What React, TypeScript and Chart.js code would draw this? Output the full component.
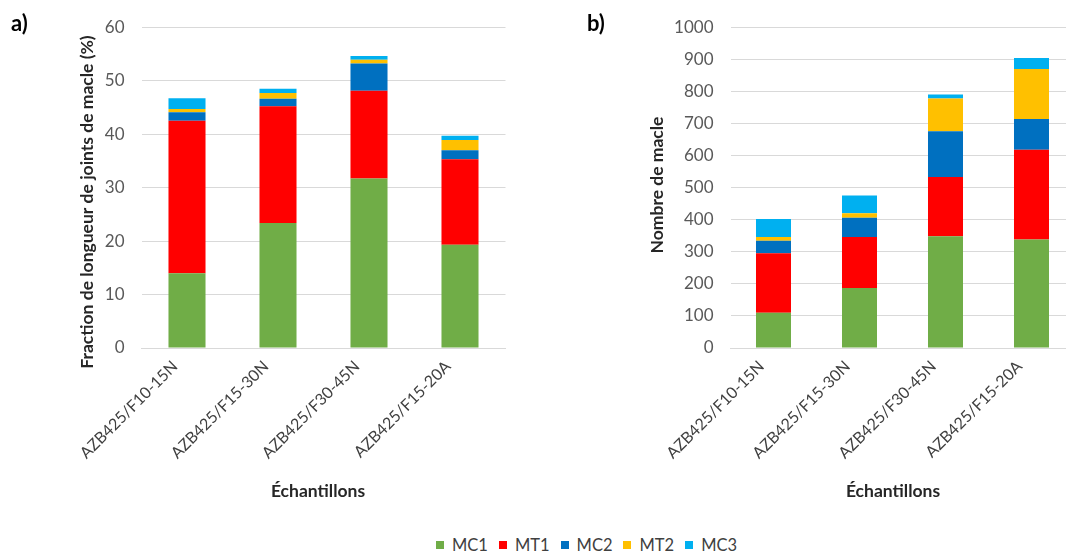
import React, { useEffect, useRef } from "react";
import { Chart, registerables } from "chart.js";

Chart.register(...registerables);

const categories = ["AZB425/F10-15N", "AZB425/F15-30N", "AZB425/F30-45N", "AZB425/F15-20A"];
const seriesNames = ["MC1", "MT1", "MC2", "MT2", "MC3"];
const seriesColors = ["#70AD47", "#FF0000", "#0070C0", "#FFC000", "#00B0F0"];

// a) Fraction de longueur de joints de macle (%)
const fracMC1 = [14.0, 23.4, 31.7, 19.3];
const fracMT1 = [28.5, 21.8, 16.4, 16.0];
const fracMC2 = [1.6, 1.4, 5.1, 1.7];
const fracMT2 = [0.6, 1.1, 0.7, 1.9];
const fracMC3 = [2.0, 0.8, 0.7, 0.8];

// b) Nombre de macle
const countMC1 = [110, 187, 348, 338];
const countMT1 = [185, 159, 185, 280];
const countMC2 = [39, 60, 143, 96];
const countMT2 = [12, 14, 102, 156];
const countMC3 = [56, 55, 12, 34];

const FONT = "Lato, 'Open Sans', sans-serif";
const Y_W = 60;
const X_H = 150;

type PanelProps = {
  left: number;
  width: number;
  height: number;
  series: number[][];
  yMax: number;
  yStep: number;
  yTitle: string;
  yTitleX: number;
  yTitleY: number;
  xTitle: string;
  xTitleX: number;
  xTitleY: number;
  plotLeft: number;
  plotRight: number;
  plotTop: number;
  plotBottom: number;
};

function Panel(p: PanelProps) {
  const ref = useRef<HTMLCanvasElement | null>(null);
  useEffect(() => {
    if (!ref.current) return;
    const titlePlugin = {
      id: "customTitles",
      afterDraw(chart: any) {
        const ctx = chart.ctx;
        ctx.save();
        ctx.fillStyle = "#262626";
        ctx.font = `bold 17.5px ${FONT}`;
        ctx.textAlign = "center";
        ctx.textBaseline = "middle";
        ctx.fillText(p.xTitle, p.xTitleX, p.xTitleY);
        ctx.translate(p.yTitleX, p.yTitleY);
        ctx.rotate(-Math.PI / 2);
        ctx.fillText(p.yTitle, 0, 0);
        ctx.restore();
      },
    };
    const chart = new Chart(ref.current, {
      type: "bar",
      data: {
        labels: categories,
        datasets: p.series.map((d, i) => ({
          label: seriesNames[i],
          data: d,
          backgroundColor: seriesColors[i],
          borderWidth: 0,
          categoryPercentage: 1,
          barPercentage: 0.407,
        })),
      },
      options: {
        responsive: false,
        animation: false,
        layout: {
          padding: {
            left: p.plotLeft - Y_W,
            right: p.width - p.plotRight,
            top: p.plotTop,
            bottom: p.height - p.plotBottom - X_H,
          },
        },
        plugins: { legend: { display: false }, tooltip: { enabled: false } },
        scales: {
          x: {
            stacked: true,
            grid: { display: false, drawTicks: false },
            border: { color: "#D9D9D9", width: 1 },
            ticks: {
              color: "#404040",
              font: { family: FONT, size: 16 },
              minRotation: 45,
              maxRotation: 45,
              autoSkip: false,
              padding: 9,
              labelOffset: -12,
            },
            afterFit: (s: any) => {
              s.height = X_H;
            },
          },
          y: {
            stacked: true,
            min: 0,
            max: p.yMax,
            ticks: {
              stepSize: p.yStep,
              color: "#595959",
              font: { family: FONT, size: 17 },
              padding: 17,
              callback: (v: any) => String(v),
            },
            grid: { color: "#D9D9D9", drawTicks: false },
            border: { display: false },
            afterFit: (s: any) => {
              s.width = Y_W;
            },
          },
        },
      },
      plugins: [titlePlugin],
    });
    return () => chart.destroy();
  }, []);
  return (
    <canvas
      ref={ref}
      width={p.width}
      height={p.height}
      style={{ position: "absolute", left: p.left, top: 0, width: p.width, height: p.height }}
    />
  );
}

export default function App() {
  return (
    <div
      style={{
        position: "absolute",
        left: 0,
        top: 0,
        width: 1066,
        height: 555,
        overflow: "hidden",
        background: "#fff",
        fontFamily: FONT,
      }}
    >
      <Panel
        left={0}
        width={530}
        height={520}
        series={[fracMC1, fracMT1, fracMC2, fracMT2, fracMC3]}
        yMax={60}
        yStep={10}
        yTitle="Fraction de longueur de joints de macle (%)"
        yTitleX={87}
        yTitleY={202}
        xTitle="Échantillons"
        xTitleX={318}
        xTitleY={491}
        plotLeft={141.5}
        plotRight={505.5}
        plotTop={20}
        plotBottom={348}
      />
      <Panel
        left={530}
        width={560}
        height={520}
        series={[countMC1, countMT1, countMC2, countMT2, countMC3]}
        yMax={1000}
        yStep={100}
        yTitle="Nombre de macle"
        yTitleX={127}
        yTitleY={185}
        xTitle="Échantillons"
        xTitleX={363}
        xTitleY={491}
        plotLeft={200.5}
        plotRight={544.5}
        plotTop={20.5}
        plotBottom={348}
      />
      <div style={{ position: "absolute", left: 11, top: 12, fontSize: 22, fontWeight: "bold", color: "#000", lineHeight: "22px" }}>a)</div>
      <div style={{ position: "absolute", left: 587, top: 12, fontSize: 22, fontWeight: "bold", color: "#000", lineHeight: "22px" }}>b)</div>
      <div
        style={{
          position: "absolute",
          left: 436,
          top: 536,
          height: 18,
          display: "flex",
          alignItems: "center",
          fontSize: 16.5,
          color: "#404040",
        }}
      >
        {seriesNames.map((n, i) => (
          <div key={n} style={{ display: "flex", alignItems: "center", marginRight: 11 }}>
            <span style={{ display: "inline-block", width: 8, height: 8, background: seriesColors[i], marginRight: 8 }} />
            <span>{n}</span>
          </div>
        ))}
      </div>
    </div>
  );
}
